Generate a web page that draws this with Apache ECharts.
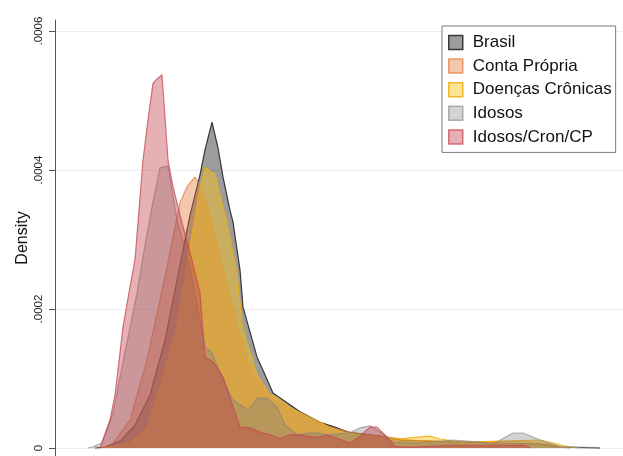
<!DOCTYPE html>
<html>
<head>
<meta charset="utf-8">
<script src="https://cdn.jsdelivr.net/npm/echarts@6/dist/echarts.min.js"></script>
<style>
  html, body { margin: 0; padding: 0; background: #fff; }
  #grafico { width: 623px; height: 456px; }
</style>
</head>
<body>
<div id="grafico"></div>
<script>
// series e rotulos (renda x densidade)
const nomesSeries = ["Brasil", "Conta Própria", "Doenças Crônicas", "Idosos", "Idosos/Cron/CP"];
const ticksY = [0, 0.0002, 0.0004, 0.0006];

const brasil = [
  [400, 0], [500, 1.4e-6], [650, 1.0e-5], [800, 3.3e-5], [950, 7.6e-5], [1100, 1.55e-4],
  [1250, 2.63e-4], [1350, 3.35e-4], [1450, 3.93e-4], [1500, 4.29e-4], [1570, 4.69e-4],
  [1630, 4.32e-4], [1680, 3.90e-4], [1750, 3.42e-4], [1780, 3.25e-4], [1850, 2.56e-4],
  [1880, 2.03e-4], [1950, 1.67e-4], [2020, 1.31e-4], [2080, 1.12e-4], [2180, 7.9e-5],
  [2320, 6.5e-5], [2450, 5.2e-5], [2650, 3.7e-5], [2800, 3.0e-5], [2950, 2.2e-5],
  [3250, 1.7e-5], [3450, 1.15e-5], [3750, 1.0e-5], [4050, 8.6e-6], [4450, 7.2e-6],
  [4850, 5.8e-6], [5050, 1.4e-6], [5450, 0]
];

const contaPropria = [
  [500, 0], [580, 7.2e-6], [750, 4.0e-5], [920, 1.27e-4], [1120, 2.60e-4], [1250, 3.53e-4],
  [1320, 3.76e-4], [1400, 3.90e-4], [1450, 3.78e-4], [1530, 3.42e-4], [1630, 2.85e-4],
  [1730, 2.27e-4], [1830, 1.70e-4], [1930, 1.24e-4], [2050, 9.1e-5], [2200, 6.9e-5],
  [2350, 5.5e-5], [2550, 4.0e-5], [2750, 3.0e-5], [2950, 2.3e-5], [3250, 1.7e-5],
  [3550, 1.15e-5], [3850, 1.0e-5], [4250, 8.6e-6], [4650, 1.0e-5], [4900, 7.2e-6],
  [5050, 1.4e-6], [5150, 0]
];

const doencasCronicas = [
  [450, 0], [600, 2.9e-6], [750, 7.2e-6], [920, 3.0e-5], [1080, 1.02e-4], [1220, 1.74e-4],
  [1350, 2.89e-4], [1450, 3.74e-4], [1500, 4.04e-4], [1600, 3.94e-4], [1720, 3.24e-4],
  [1820, 2.52e-4], [1870, 1.80e-4], [1920, 1.51e-4], [1970, 1.31e-4], [2020, 1.05e-4],
  [2070, 9.5e-5], [2150, 7.6e-5], [2220, 7.3e-5], [2350, 5.8e-5], [2500, 4.75e-5],
  [2650, 3.74e-5], [2750, 2.9e-5], [2880, 2.3e-5], [3050, 1.9e-5], [3250, 1.6e-5],
  [3450, 1.3e-5], [3650, 1.6e-5], [3750, 1.7e-5], [3850, 1.3e-5], [4050, 8.6e-6],
  [4450, 1.0e-5], [4850, 1.15e-5], [4980, 7.2e-6], [5120, 1.9e-6], [5250, 0]
];

const idosos = [
  [330, 0], [370, 1.4e-6], [470, 7.2e-6], [580, 5.0e-5], [700, 1.38e-4], [820, 2.23e-4],
  [900, 2.92e-4], [970, 3.47e-4], [1050, 4.03e-4], [1130, 4.06e-4], [1220, 3.28e-4],
  [1350, 2.60e-4], [1500, 1.45e-4], [1570, 1.37e-4], [1680, 9.8e-5], [1780, 6.9e-5],
  [1930, 5.5e-5], [2030, 7.2e-5], [2120, 7.2e-5], [2220, 5.9e-5], [2300, 3.3e-5],
  [2420, 1.9e-5], [2580, 2.2e-5], [2750, 1.9e-5], [2950, 2.2e-5], [3050, 2.9e-5],
  [3150, 3.2e-5], [3250, 2.3e-5], [3380, 8.6e-6], [3650, 7.2e-6], [3980, 1.15e-5],
  [4250, 8.6e-6], [4380, 5.8e-6], [4580, 2.16e-5], [4680, 2.16e-5], [4850, 1.15e-5],
  [5050, 1.9e-6], [5420, 7e-7], [5450, 0]
];

const idososCronCP = [
  [450, 0], [467, 1.9e-6], [550, 4.03e-5], [600, 7.63e-5], [680, 1.74e-4], [750, 2.32e-4],
  [800, 2.71e-4], [880, 4.14e-4], [930, 4.72e-4], [980, 5.25e-4], [1020, 5.31e-4],
  [1070, 5.37e-4], [1130, 4.14e-4], [1180, 3.76e-4], [1250, 3.35e-4], [1350, 2.81e-4],
  [1450, 2.23e-4], [1500, 1.31e-4], [1580, 1.24e-4], [1680, 1.02e-4], [1850, 3.0e-5],
  [1950, 2.9e-5], [2050, 2.3e-5], [2150, 1.9e-5], [2250, 1.4e-5], [2350, 1.9e-5],
  [2450, 1.9e-5], [2580, 1.6e-5], [2650, 1.6e-5], [2720, 1.9e-5], [2820, 1.4e-5],
  [2950, 7e-6], [3050, 1.7e-5], [3150, 3.0e-5], [3220, 3.0e-5], [3320, 1.6e-5],
  [3400, 2e-6], [3550, 1e-6], [3950, 4e-6], [4700, 4e-6], [4750, 0]
];

const dadosSeries = [brasil, contaPropria, doencasCronicas, idosos, idososCronCP];

// preenchimento transparente e contorno de cada curva
const coresArea = [
  "rgba(20,20,20,0.42)",
  "rgba(225,110,40,0.38)",
  "rgba(255,195,20,0.45)",
  "rgba(130,130,130,0.35)",
  "rgba(190,60,70,0.4)"
];
const coresLinha = [
  "rgba(40,40,40,0.9)",
  "rgba(225,120,60,0.7)",
  "rgba(235,175,20,0.85)",
  "rgba(130,130,130,0.6)",
  "rgba(200,70,80,0.75)"
];

const chart = echarts.init(document.getElementById("grafico"));

const series = nomesSeries.map((nome, i) => ({
  name: nome,
  type: "line",
  data: dadosSeries[i],
  symbol: "none",
  smooth: false,
  z: 2 + i,
  itemStyle: { color: coresLinha[i] },
  lineStyle: { color: coresLinha[i], width: 1.2 },
  areaStyle: { color: coresArea[i], opacity: 1 },
  emphasis: { disabled: true }
}));

const option = {
  animation: false,
  textStyle: { fontFamily: "Liberation Sans, Arial, sans-serif" },
  grid: { left: 55, right: 0, top: 20, bottom: 0 },
  legend: {
    orient: "vertical",
    left: 442,
    top: 26,
    padding: [8, 4, 7, 6],
    itemWidth: 14,
    itemHeight: 14,
    itemGap: 6.6,
    icon: "rect",
    borderColor: "#7a7a7a",
    borderWidth: 1,
    backgroundColor: "#fff",
    selectedMode: false,
    textStyle: { fontSize: 17, color: "#111", padding: [0, 0, 0, 5] },
    data: nomesSeries.map((nome, i) => ({
      name: nome,
      itemStyle: { color: coresArea[i], borderColor: coresLinha[i], borderWidth: 1.5 }
    }))
  },
  xAxis: {
    type: "value",
    min: 0,
    max: 5680,
    show: false
  },
  yAxis: {
    type: "value",
    min: -0.0000115,
    max: 0.0006158,
    name: "Density",
    nameLocation: "middle",
    nameRotate: 90,
    nameGap: 24,
    nameMoveOverlap: false,
    nameTextStyle: { fontSize: 16, color: "#111" },
    axisLine: { show: true, lineStyle: { color: "#555", width: 1 } },
    axisTick: { show: true, length: 6, lineStyle: { color: "#555" }, customValues: ticksY },
    axisLabel: {
      customValues: ticksY,
      rotate: 90,
      margin: 10,
      fontSize: 11.5,
      color: "#222",
      formatter: v => (v === 0 ? "0" : String(v).replace(/^0/, ""))
    },
    splitLine: { show: true, lineStyle: { color: "#e8eef0", width: 1 } }
  },
  series: series
};
chart.setOption(option);
</script>
</body>
</html>
